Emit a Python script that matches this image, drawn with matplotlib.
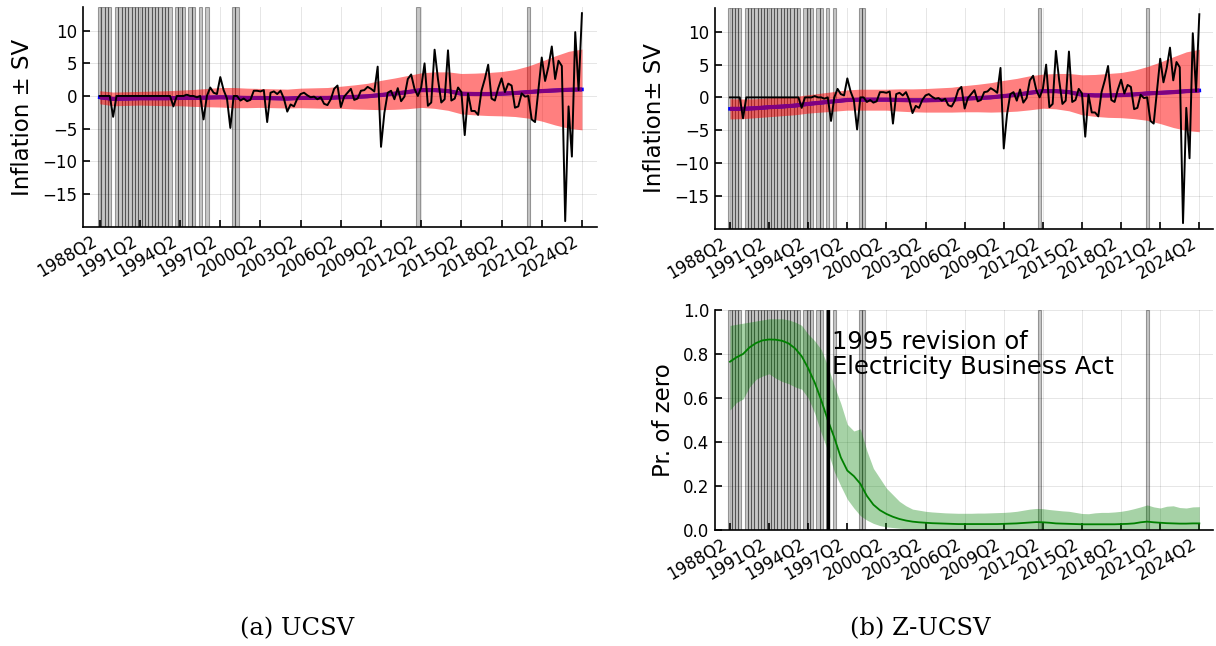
import numpy as np
import matplotlib
matplotlib.use("Agg")
import matplotlib.pyplot as plt
from matplotlib.ticker import FormatStrFormatter

# Quarterly inflation, 1988Q2 .. 2024Q2 (145 quarters)
inflation = [
    0, 0, 0, 0, -3.2, 0, 0, 0, 0, 0, 0, 0,
    0, 0, 0, 0, 0, 0, 0, 0, 0, 0, -1.6, 0,
    0, 0, 0.2, 0, 0, -0.2, 0, -3.6, 0, 1.3, 0.5, 0.3,
    2.9, 0.9, -0.4, -4.9, 0, 0, -0.7, -0.4, -0.8, -0.6, 0.8, 0.8,
    0.7, 0.9, -4.0, 0.5, 0.7, 0.3, 0.8, -0.4, -2.4, -1.3, -1.6, -0.4,
    0.3, 0.5, 0.1, -0.2, -0.1, -0.5, -0.2, -1.2, -1.4, -0.5, 1.1, 1.6,
    -1.7, -0.1, 0.5, 1.1, -0.6, -0.4, 0.8, 0.9, 1.4, 1.1, 0.7, 4.5,
    -7.8, -2.6, 0.5, 0.8, -0.5, 1.2, -0.8, -0.1, 2.6, 3.3, 1.1, 0,
    1.3, 5.0, -1.5, -1.0, 7.1, 2.6, -1.0, -0.5, 7.0, -0.7, -0.4, 1.3,
    0.6, -6.0, 0.4, -2.3, -2.3, -2.9, 0.8, 2.6, 4.8, -0.4, -0.7, 1.2,
    2.7, 0.6, 1.9, 1.6, -1.8, -1.6, 0.4, -0.1, 0, -3.6, -4.0, 1.0,
    5.9, 2.3, 4.5, 7.6, 2.6, 5.4, 4.6, -19.2, -1.6, -9.3, 9.8, 0.9,
    12.7,
]

# Trend and stochastic-volatility band, sampled every Q2 (37 values)
ucsv_trend = [
    -0.2, -0.45, -0.4, -0.35, -0.35, -0.35, -0.3, -0.3, -0.25, -0.2,
    -0.25, -0.3, -0.3, -0.35, -0.4, -0.3, -0.3, -0.3, -0.2, -0.15,
    -0.05, 0.15, 0.35, 0.6, 0.9, 0.9, 0.75, 0.35, 0.3, 0.3,
    0.35, 0.45, 0.6, 0.75, 0.85, 0.95, 1.0,
]
ucsv_sv = [
    1.0, 1.05, 1.05, 1.05, 1.1, 1.15, 1.2, 1.3, 1.4, 1.5,
    1.55, 1.5, 1.45, 1.45, 1.45, 1.5, 1.55, 1.6, 1.7, 1.85,
    2.0, 2.25, 2.4, 2.55, 2.65, 2.8, 2.95, 3.1, 3.2, 3.3,
    3.4, 3.6, 4.0, 4.6, 5.3, 5.9, 6.2,
]
zucsv_trend = [
    -1.75, -1.75, -1.65, -1.5, -1.4, -1.25, -1.0, -0.8, -0.6, -0.4,
    -0.35, -0.35, -0.35, -0.4, -0.45, -0.45, -0.4, -0.35, -0.2, -0.1,
    0.0, 0.2, 0.4, 0.7, 0.95, 0.95, 0.8, 0.4, 0.3, 0.3,
    0.35, 0.45, 0.6, 0.7, 0.8, 0.95, 1.05,
]
zucsv_sv = [
    1.55, 1.5, 1.45, 1.45, 1.4, 1.4, 1.4, 1.45, 1.5, 1.55,
    1.6, 1.6, 1.6, 1.7, 1.75, 1.8, 1.85, 1.9, 2.0, 2.1,
    2.25, 2.4, 2.5, 2.6, 2.6, 2.7, 2.85, 3.05, 3.2, 3.35,
    3.45, 3.7, 4.1, 4.7, 5.4, 6.0, 6.3,
]

# Probability of a zero quarter, sampled every two quarters (73 values)
pzero_mean = [
    0.765, 0.785, 0.80, 0.83, 0.85, 0.862, 0.866, 0.865, 0.86, 0.848,
    0.825, 0.79, 0.735, 0.67, 0.59, 0.50, 0.42, 0.33, 0.27, 0.245,
    0.21, 0.155, 0.115, 0.09, 0.073, 0.06, 0.05, 0.043, 0.038, 0.035,
    0.033, 0.031, 0.03, 0.029, 0.028, 0.027, 0.027, 0.027, 0.027, 0.027,
    0.027, 0.027, 0.028, 0.029, 0.03, 0.032, 0.034, 0.036, 0.035, 0.033,
    0.03, 0.029, 0.028, 0.027, 0.026, 0.026, 0.026, 0.026, 0.026, 0.026,
    0.027, 0.028, 0.03, 0.035, 0.038, 0.035, 0.033, 0.031, 0.03, 0.029,
    0.029, 0.03, 0.03,
]
pzero_upper = [
    0.93, 0.935, 0.94, 0.945, 0.95, 0.955, 0.96, 0.96, 0.96, 0.955,
    0.945, 0.93, 0.89, 0.86, 0.82, 0.745, 0.655, 0.575, 0.48, 0.45,
    0.46, 0.36, 0.28, 0.235, 0.19, 0.16, 0.13, 0.11, 0.095, 0.09,
    0.085, 0.082, 0.08, 0.078, 0.077, 0.076, 0.076, 0.076, 0.077, 0.077,
    0.078, 0.079, 0.08, 0.082, 0.085, 0.09, 0.095, 0.098, 0.097, 0.093,
    0.09, 0.087, 0.085, 0.08, 0.075, 0.074, 0.078, 0.08, 0.08, 0.082,
    0.085, 0.09, 0.097, 0.105, 0.114, 0.105, 0.10, 0.108, 0.11, 0.102,
    0.10, 0.105, 0.106,
]
pzero_lower = [
    0.545, 0.58, 0.595, 0.65, 0.685, 0.70, 0.71, 0.69, 0.675, 0.665,
    0.65, 0.64, 0.60, 0.53, 0.44, 0.36, 0.265, 0.20, 0.14, 0.10,
    0.065, 0.045, 0.03, 0.02, 0.014, 0.011, 0.008, 0.006, 0.005, 0.004,
    0.004, 0.004, 0.004, 0.004, 0.004, 0.004, 0.004, 0.004, 0.004, 0.004,
    0.004, 0.004, 0.004, 0.004, 0.005, 0.005, 0.005, 0.005, 0.005, 0.004,
    0.004, 0.004, 0.004, 0.004, 0.004, 0.004, 0.004, 0.004, 0.004, 0.004,
    0.004, 0.004, 0.005, 0.005, 0.005, 0.005, 0.005, 0.005, 0.005, 0.005,
    0.005, 0.005, 0.005,
]

tick_labels = ["1988Q2", "1991Q2", "1994Q2", "1997Q2", "2000Q2", "2003Q2",
               "2006Q2", "2009Q2", "2012Q2", "2015Q2", "2018Q2", "2021Q2",
               "2024Q2"]
revision_quarter = 30  # 1995Q4
revision_text = "1995 revision of\nElectricity Business Act"

q = np.arange(len(inflation))
q_annual = np.arange(0, len(inflation), 4)
q_semi = np.arange(0, len(inflation), 2)
zero_q = q[np.asarray(inflation) == 0]
tick_pos = np.arange(0, len(inflation), 12)

W, H = 1216, 646
fig = plt.figure(figsize=(W / 100, H / 100), dpi=100)


def box(l, t, r, b):
    return [l / W, 1 - b / H, (r - l) / W, (b - t) / H]


def style(ax, xlim):
    ax.set_xlim(*xlim)
    for s in ("top", "right"):
        ax.spines[s].set_visible(False)
    for s in ("left", "bottom"):
        ax.spines[s].set_linewidth(1.2)
    ax.grid(True, color="black", alpha=0.1, lw=0.7)
    ax.set_axisbelow(True)
    ax.tick_params(direction="in", length=5, width=1.2, labelsize=12, pad=4)
    ax.set_xticks(tick_pos)
    ax.set_xticklabels(tick_labels, rotation=30, ha="right")


def zero_spans(ax):
    for z in zero_q:
        ax.axvspan(z - 0.5, z + 0.5, facecolor=(0, 0, 0, 0.22),
                   edgecolor=(0, 0, 0, 0.35), lw=0.8, zorder=1)


def sv_panel(ax, trend, sv, label, xlim):
    trend = np.asarray(trend)
    sv = np.asarray(sv)
    zero_spans(ax)
    ax.fill_between(q_annual, trend - sv, trend + sv, color="red",
                    alpha=0.5, lw=0, zorder=2)
    ax.plot(q_annual, trend, color="blue", lw=2.6,
            solid_capstyle="projecting", zorder=3)
    ax.plot(q_annual, trend, color="purple", lw=3.0,
            solid_capstyle="butt", zorder=4)
    ax.plot(q, inflation, color="black", lw=1.4, zorder=5)
    ax.set_ylim(-20.1, 13.65)
    ax.set_yticks([-15, -10, -5, 0, 5, 10])
    ax.set_ylabel(label, fontsize=16.5, labelpad=6)
    style(ax, xlim)


ax_a = fig.add_axes(box(83, 7, 597, 227))
sv_panel(ax_a, ucsv_trend, ucsv_sv, "Inflation ± SV", (-5, 148.5))

ax_b = fig.add_axes(box(715, 8, 1213, 229))
sv_panel(ax_b, zucsv_trend, zucsv_sv, "Inflation± SV", (-4.6, 148.2))

ax_c = fig.add_axes(box(715, 310, 1213, 530))
zero_spans(ax_c)
ax_c.fill_between(q_semi, pzero_lower, pzero_upper, color="green",
                  alpha=0.35, lw=0, zorder=2)
ax_c.plot(q_semi, pzero_mean, color="green", lw=1.3, zorder=3)
ax_c.axvline(revision_quarter, color="black", lw=2.4, zorder=4)
ax_c.text(revision_quarter + 1.2, 0.91, revision_text, fontsize=17.5,
          va="top", ha="left", linespacing=1.05, zorder=5)
ax_c.set_ylim(0, 1)
ax_c.set_yticks([0, 0.2, 0.4, 0.6, 0.8, 1.0])
ax_c.yaxis.set_major_formatter(FormatStrFormatter("%.1f"))
ax_c.set_ylabel("Pr. of zero", fontsize=16.5, labelpad=6)
style(ax_c, (-4.6, 148.2))

fig.text(297 / W, 1 - 629 / H, "(a) UCSV", family="DejaVu Serif",
         fontsize=17.5, ha="center", va="center")
fig.text(920 / W, 1 - 629 / H, "(b) Z-UCSV", family="DejaVu Serif",
         fontsize=17.5, ha="center", va="center")

fig.savefig("out.png", dpi=100)
